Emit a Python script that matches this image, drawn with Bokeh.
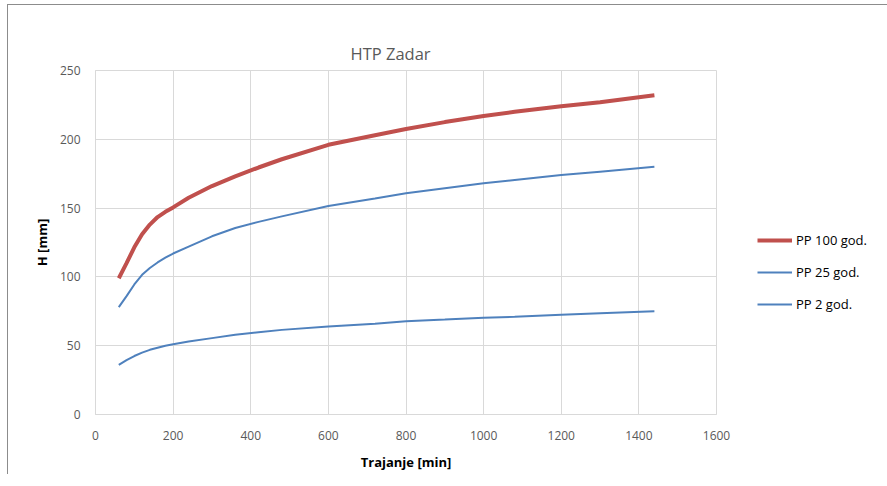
from bokeh.plotting import figure
from bokeh.models import Legend, LegendItem, Range1d, FixedTicker
from bokeh.embed import file_html
from bokeh.resources import INLINE

# Duration [min]
trajanje = [60, 80, 100, 120, 140, 160, 180, 200, 240, 300, 360, 420, 480, 600,
            720, 800, 900, 1000, 1080, 1200, 1300, 1440]
# Precipitation height H [mm]
pp100 = [99, 110, 121.5, 131, 138, 143.5, 147.3, 150.5, 157.5, 166, 173, 179.5, 185.5, 196,
         203, 207.5, 212.5, 217, 220, 224, 227, 232]
pp25 = [78, 86, 94.5, 101.5, 106.5, 110.5, 114, 117, 122, 129.5, 135.5, 140, 144, 151.5,
        157, 160.8, 164.5, 168, 170.5, 174, 176.5, 180]
pp2 = [36, 39.5, 42.5, 45, 47, 48.5, 50, 51, 53, 55.5, 58, 59.8, 61.5, 64,
       66, 67.8, 69, 70.3, 71, 72.5, 73.5, 75]

x_ticks = [0, 200, 400, 600, 800, 1000, 1200, 1400, 1600]
y_ticks = [0, 50, 100, 150, 200, 250]

FONT = "Open Sans"
GRID = "#d9d9d9"
TXT = "#595959"

p = figure(width=871, height=470, output_backend="svg", toolbar_location=None,
           x_range=Range1d(0, 1600), y_range=Range1d(0, 250),
           frame_width=621, frame_height=344,
           min_border_left=87, min_border_top=65, min_border_bottom=60, min_border_right=163)
p.styles = {"border-left": "1px solid #8c8c8c", "border-top": "1px solid #8c8c8c",
            "margin-left": "7px", "margin-top": "4px"}

r1 = p.line(trajanje, pp100, line_color="#c0504d", line_width=4)
r2 = p.line(trajanje, pp25, line_color="#4f81bd", line_width=2)
r3 = p.line(trajanje, pp2, line_color="#4f81bd", line_width=2)

p.title.text = "HTP Zadar"
p.title.text_font = FONT
p.title.text_font_size = "16.5px"
p.title.text_font_style = "normal"
p.title.text_color = TXT
p.title.align = "left"
p.title.offset = 255
p.title.standoff = 12

for ax in (p.xaxis[0], p.yaxis[0]):
    ax.major_label_text_font = FONT
    ax.major_label_text_font_size = "12px"
    ax.major_label_text_color = TXT
    ax.axis_line_color = GRID
    ax.major_tick_line_color = None
    ax.minor_tick_line_color = None
    ax.axis_label_text_font = FONT
    ax.axis_label_text_font_size = "13px"
    ax.axis_label_text_font_style = "bold"
    ax.axis_label_text_color = "black"

p.xaxis[0].ticker = FixedTicker(ticks=x_ticks)
p.yaxis[0].ticker = FixedTicker(ticks=y_ticks)
p.xaxis[0].axis_label = "Trajanje [min]"
p.yaxis[0].axis_label = "H [mm]"
p.xaxis[0].major_label_standoff = 10
p.yaxis[0].major_label_standoff = 9
p.xaxis[0].axis_label_standoff = 10
p.yaxis[0].axis_label_standoff = 6

p.xgrid.grid_line_color = GRID
p.ygrid.grid_line_color = GRID
p.xgrid.ticker = FixedTicker(ticks=x_ticks)
p.ygrid.ticker = FixedTicker(ticks=y_ticks)
p.outline_line_color = GRID

legend = Legend(items=[LegendItem(label="PP 100 god.", renderers=[r1]),
                       LegendItem(label="PP 25 god.", renderers=[r2]),
                       LegendItem(label="PP 2 god.", renderers=[r3])],
                location=(41, 100), border_line_color=None, background_fill_alpha=0,
                label_text_font=FONT, label_text_font_size="13px",
                label_text_color="black", glyph_width=35, spacing=12, padding=0,
                label_standoff=4)
p.add_layout(legend, "right")

open("out.html", "w").write(file_html(p, INLINE))
